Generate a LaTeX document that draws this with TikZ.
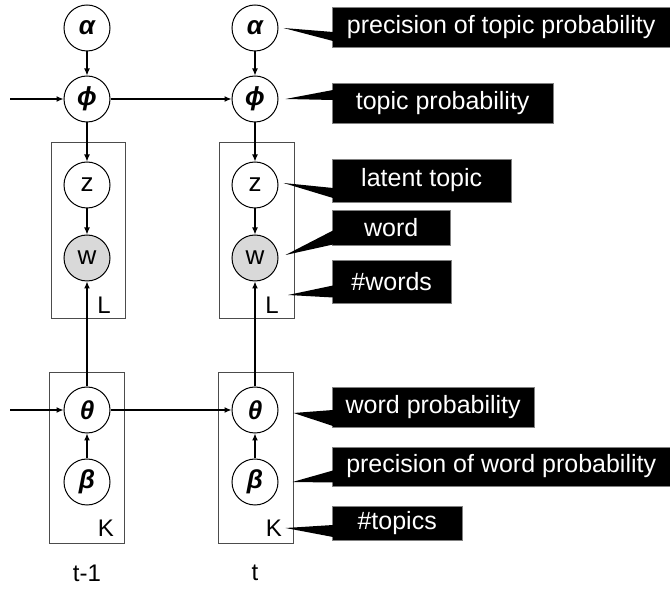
\documentclass[tikz,border=0pt]{standalone}
\usepackage{fontspec}
\setmainfont{Liberation Sans}
\usetikzlibrary{arrows.meta,calc}

\begin{document}
\begin{tikzpicture}[x=1pt,y=-1pt,
    var/.style={circle,draw,line width=1pt,minimum size=46pt,inner sep=0pt,font=\fontsize{26}{30}\selectfont},
    obs/.style={var,fill=black!15},
    greek/.style={font=\fontsize{26}{30}\selectfont\bfseries\itshape},
    plate/.style={draw=black!70,line width=1pt,inner sep=0pt},
    lab/.style={font=\fontsize{24}{28}\selectfont},
    edge/.style={-{Latex[length=7pt,width=6pt]},line width=1.2pt},
    note/.style={fill=black,draw=black!50,text=white,anchor=west,inner sep=0pt,font=\fontsize{25}{28}\selectfont},
    wedge/.style={fill=black}]
    \useasboundingbox (0,0) rectangle (670,593);
    % the plates
    \node[plate,minimum width=74pt,minimum height=176pt] (plateL1) at (88,231) {};
    \node[plate,minimum width=75pt,minimum height=176pt] (plateL2) at (256.5,231) {};
    \node[plate,minimum width=75pt,minimum height=171pt] (plateK1) at (86.5,458.5) {};
    \node[plate,minimum width=75pt,minimum height=171pt] (plateK2) at (255.5,458.5) {};
    \node[lab] (L1) at (104,305) {L};
    \node[lab] (L2) at (272,305) {L};
    \node[lab] (K1) at (106,528) {K};
    \node[lab] (K2) at (274,528) {K};
    % slice t-1
    \node[var,greek] (alpha1) at (87,28) {α};
    \node[var,greek] (phi1) at (87,99) {ϕ};
    \node[var] (z1) at (87,185) {z};
    \node[obs] (w1) at (87,258) {w};
    \node[var,greek] (theta1) at (87,410) {θ};
    \node[var,greek] (beta1) at (87,482) {β};
    \node[lab] (t1) at (87,573) {t-1};
    % slice t
    \node[var,greek] (alpha2) at (255,28) {α};
    \node[var,greek] (phi2) at (255,99) {ϕ};
    \node[var] (z2) at (255,185) {z};
    \node[obs] (w2) at (255,258) {w};
    \node[var,greek] (theta2) at (255,410) {θ};
    \node[var,greek] (beta2) at (255,482) {β};
    \node[lab] (t2) at (255,573) {t};
    % the arrows
    \coordinate (inphi) at (10,99);
    \coordinate (intheta) at (10,410);
    \draw[edge] (inphi) -- (phi1);
    \draw[edge] (intheta) -- (theta1);
    \draw[edge] (phi1) -- (phi2);
    \draw[edge] (theta1) -- (theta2);
    \draw[edge] (alpha1) -- (phi1);
    \draw[edge] (phi1) -- (z1);
    \draw[edge] (z1) -- (w1);
    \draw[edge] (theta1) -- (w1);
    \draw[edge] (beta1) -- (theta1);
    \draw[edge] (alpha2) -- (phi2);
    \draw[edge] (phi2) -- (z2);
    \draw[edge] (z2) -- (w2);
    \draw[edge] (theta2) -- (w2);
    \draw[edge] (beta2) -- (theta2);
    % the callouts
    \node[note,minimum width=338pt,minimum height=40pt] (n1) at (332,27) {precision of topic probability};
    \node[note,minimum width=221pt,minimum height=40pt] (n2) at (332,103) {topic probability};
    \node[note,minimum width=179pt,minimum height=43pt] (n3) at (332,180.5) {latent topic};
    \node[note,minimum width=118pt,minimum height=35pt] (n4) at (332,227.5) {word};
    \node[note,minimum width=119pt,minimum height=43pt] (n5) at (332,281.5) {\#words};
    \node[note,minimum width=202pt,minimum height=40pt] (n6) at (332,407) {word probability};
    \node[note,minimum width=338pt,minimum height=39pt] (n7) at (332,466.5) {precision of word probability};
    \node[note,minimum width=130pt,minimum height=34pt] (n8) at (332,523) {\#topics};
    \fill[wedge] ($(alpha2.east)+(5,0)$) -- ($(n1.west)+(1,5)$) -- ($(n1.west)+(1,14)$) -- cycle;
    \fill[wedge] ($(phi2.east)+(7,0)$) -- ($(n2.west)+(1,-13)$) -- ($(n2.west)+(1,-3)$) -- cycle;
    \fill[wedge] ($(z2.east)+(5,-2)$) -- ($(n3.west)+(1,7.5)$) -- ($(n3.west)+(1,17.5)$) -- cycle;
    \fill[wedge] ($(w2.east)+(7,-3)$) -- ($(n4.west)+(1,3)$) -- ($(n4.west)+(1,17)$) -- cycle;
    \fill[wedge] ($(L2)+(16,-10)$) -- ($(n5.west)+(1,4)$) -- ($(n5.west)+(1,16)$) -- cycle;
    \fill[wedge] ($(theta2.east)+(15,3)$) -- ($(n6.west)+(1,3)$) -- ($(n6.west)+(1,19)$) -- cycle;
    \fill[wedge] ($(beta2.east)+(14,0)$) -- ($(n7.west)+(1,4)$) -- ($(n7.west)+(1,16)$) -- cycle;
    \fill[wedge] (K2.east) -- ($(n8.west)+(1,2)$) -- ($(n8.west)+(1,14)$) -- cycle;
\end{tikzpicture}
\end{document}
